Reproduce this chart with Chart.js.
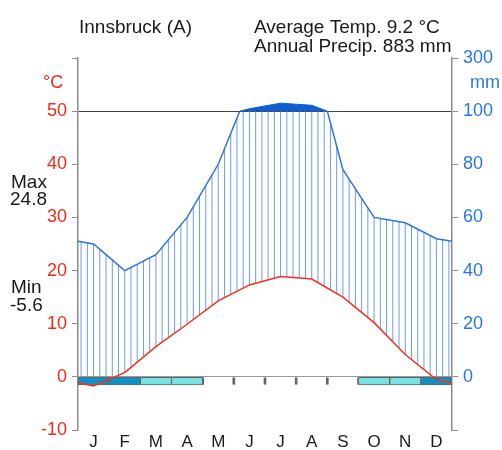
<!DOCTYPE html>
<html>
<head>
<meta charset="utf-8">
<script src="https://cdn.jsdelivr.net/npm/chart.js@4.4.0/dist/chart.umd.min.js"></script>
<style>
  html, body { margin: 0; padding: 0; background: #fff; }
  #wrap { width: 502px; height: 450px; }
</style>
</head>
<body>
<div id="wrap"><canvas id="climateChart" width="502" height="450"></canvas></div>
<script>
// Innsbruck monthly normals
const months = ["J", "F", "M", "A", "M", "J", "J", "A", "S", "O", "N", "D"];
const tempC = [-1.7, 0.8, 5.7, 9.9, 14.3, 17.3, 18.9, 18.4, 15.0, 10.2, 4.2, -0.5];
const precipMm = [50, 40, 46, 60, 80, 109, 130, 122, 78, 60, 58, 52];
// where the curves meet the left/right border (Dec -> Jan wrap)
const tempEdge = -1.1;
const precipEdge = 51;
// 2 = mean daily min below zero, 1 = absolute min below zero, 0 = frost free
const frostClass = [2, 2, 1, 1, 0, 0, 0, 0, 0, 1, 1, 2];

const tempTicks = [-10, 0, 10, 20, 30, 40, 50, 60];
const tempTickLabels = ["-10", "0", "10", "20", "30", "40", "50", ""];
const precipTickLabels = ["", "0", "20", "40", "60", "80", "100", "300"];

const station = "Innsbruck (A)";
const avgTemp = "9.2";
const annualPrecip = "883";
const absMax = "24.8";
const absMin = "-5.6";

const fontFamily = "'Liberation Sans', Arial, sans-serif";
const red = "#ee2b1b";
const blue = "#2a78dd";

// x positions: left border, month centres, right border
const xs = [0].concat(months.map((m, i) => i + 0.5), [12]);
const tempSeries = [tempEdge].concat(tempC, [tempEdge]);
const precipSeries = [precipEdge].concat(precipMm, [precipEdge]);

// 20 mm per 10 °C up to 100 mm, above that 200 mm per 10 °C
function mmToScale(mm) {
    return mm <= 100 ? mm / 2 : 50 + (mm - 100) / 20;
}

function valueAt(series, x) {
    for (let i = 1; i < xs.length; i++) {
        if (x <= xs[i]) {
            let f = (x - xs[i - 1]) / (xs[i] - xs[i - 1]);
            return series[i - 1] + f * (series[i] - series[i - 1]);
        }
    }
    return series[series.length - 1];
}

let tempPoints = xs.map((x, i) => ({ x: x, y: tempSeries[i] }));
let precipPoints = xs.map((x, i) => ({ x: x, y: precipSeries[i] / 2 }));

// part above 100 mm, on the compressed scale
let wetPoints = [];
for (let i = 0; i < xs.length; i++) {
    let a = precipSeries[i];
    if (i > 0) {
        let b = precipSeries[i - 1];
        if ((a > 100) !== (b > 100)) {
            let f = (100 - b) / (a - b);
            wetPoints.push({ x: xs[i - 1] + f * (xs[i] - xs[i - 1]), y: 50 });
        }
    }
    if (a > 100) wetPoints.push({ x: xs[i], y: mmToScale(a) });
}

let frostBars = months.map((m, i) => ({ x: i + 0.5, y: [-1.5, 0] }));
let frostColors = frostClass.map(c => ["rgba(0,0,0,0)", "#76e1e0", "#1190c6"][c]);

// vertical hatching for the humid period + clipping of the precip line at 100 mm
const humidPlugin = {
    id: "humidHatch",
    beforeDatasetsDraw(chart) {
        let ctx = chart.ctx;
        let x = chart.scales.x, y = chart.scales.y;
        ctx.save();
        ctx.strokeStyle = "#6a9ee6";
        ctx.lineWidth = 1;
        ctx.beginPath();
        for (let k = 0; k < 60; k++) {
            let m = (k + 0.5) / 5;
            let t = valueAt(tempSeries, m);
            let p = Math.min(valueAt(precipSeries, m) / 2, 50);
            if (p <= t) continue;
            let px = x.getPixelForValue(m);
            ctx.moveTo(px, y.getPixelForValue(t));
            ctx.lineTo(px, y.getPixelForValue(p));
        }
        ctx.stroke();
        ctx.restore();
    },
    beforeDatasetDraw(chart, args) {
        if (chart.data.datasets[args.index].label !== "precip") return;
        let ctx = chart.ctx, area = chart.chartArea;
        let top = chart.scales.y.getPixelForValue(50);
        ctx.save();
        ctx.beginPath();
        ctx.rect(area.left, top, area.right - area.left, area.bottom - top);
        ctx.clip();
    },
    afterDatasetDraw(chart, args) {
        if (chart.data.datasets[args.index].label !== "precip") return;
        chart.ctx.restore();
    }
};

const textPlugin = {
    id: "diagramText",
    afterDraw(chart) {
        let ctx = chart.ctx;
        ctx.save();
        ctx.textBaseline = "alphabetic";
        ctx.textAlign = "left";
        ctx.font = "19px " + fontFamily;
        ctx.fillStyle = "#1a1a1a";
        ctx.fillText(station, 79, 33);
        ctx.fillText("Average Temp. " + avgTemp + " °C", 254, 33);
        ctx.fillText("Annual Precip. " + annualPrecip + " mm", 254, 52);
        ctx.fillText("Max", 11, 188);
        ctx.fillText(absMax, 10, 205);
        ctx.fillText("Min", 11, 293);
        ctx.fillText(absMin, 10, 311);
        ctx.font = "18px " + fontFamily;
        ctx.fillStyle = red;
        ctx.fillText("°C", 43, 88);
        ctx.fillStyle = blue;
        ctx.fillText("mm", 470, 88);
        ctx.restore();
    }
};

let ctx = document.getElementById("climateChart").getContext("2d");

let climateChart = new Chart(ctx, {
    type: "line",
    data: {
        datasets: [
            {
                label: "temp",
                data: tempPoints,
                borderColor: "#f0321e",
                borderWidth: 1.5,
                pointRadius: 0,
                tension: 0,
                fill: false,
                order: 0
            },
            {
                type: "bar",
                label: "frost",
                data: frostBars,
                backgroundColor: frostColors,
                borderColor: "#666",
                borderWidth: c => frostClass[c.dataIndex] ? 1 : { left: 1, right: 1, top: 0, bottom: 0 },
                borderSkipped: false,
                barPercentage: 1,
                categoryPercentage: 1,
                grouped: false,
                order: 1
            },
            {
                label: "wet",
                data: wetPoints,
                borderColor: "#0d5fd3",
                backgroundColor: "#0d5fd3",
                borderWidth: 1,
                pointRadius: 0,
                tension: 0,
                fill: { value: 50 },
                order: 2
            },
            {
                label: "precip",
                data: precipPoints,
                borderColor: "#2f74d6",
                borderWidth: 1.5,
                pointRadius: 0,
                tension: 0,
                fill: false,
                order: 3
            }
        ]
    },
    options: {
        responsive: false,
        animation: false,
        events: [],
        layout: { padding: { top: 58, left: 0, right: 0, bottom: 0 } },
        plugins: {
            legend: { display: false },
            tooltip: { enabled: false }
        },
        scales: {
            x: {
                type: "linear",
                min: 0,
                max: 12,
                offset: false,
                afterBuildTicks: s => { s.ticks = months.map((m, i) => ({ value: i + 0.5 })); },
                afterFit: s => { s.height = 20; },
                ticks: {
                    color: "#1a1a1a",
                    font: { size: 17, family: fontFamily },
                    padding: -6,
                    maxRotation: 0,
                    autoSkip: false,
                    callback: (v, i) => months[i]
                },
                grid: { display: false },
                border: { display: false }
            },
            y: {
                type: "linear",
                position: "left",
                min: -10,
                max: 60,
                afterBuildTicks: s => { s.ticks = tempTicks.map(v => ({ value: v })); },
                afterFit: s => { s.width = 78; },
                ticks: {
                    color: red,
                    font: { size: 18, family: fontFamily },
                    padding: 5,
                    callback: (v, i) => tempTickLabels[i]
                },
                grid: {
                    color: c => c.tick.value === 50 ? "#444" : (c.tick.value === 0 ? "#999" : "rgba(0,0,0,0)"),
                    tickColor: "#8c8c8c",
                    tickLength: 6,
                    lineWidth: 1
                },
                border: { color: "#8c8c8c", width: 1.5 }
            },
            y2: {
                type: "linear",
                position: "right",
                min: -10,
                max: 60,
                afterBuildTicks: s => { s.ticks = tempTicks.map(v => ({ value: v })); },
                afterFit: s => { s.width = 50; },
                ticks: {
                    color: blue,
                    font: { size: 18, family: fontFamily },
                    padding: 5,
                    callback: (v, i) => precipTickLabels[i]
                },
                grid: { drawOnChartArea: false, tickColor: "#8c8c8c", tickLength: 6 },
                border: { color: "#8c8c8c", width: 1.5 }
            }
        }
    },
    plugins: [humidPlugin, textPlugin]
});
</script>
</body>
</html>
